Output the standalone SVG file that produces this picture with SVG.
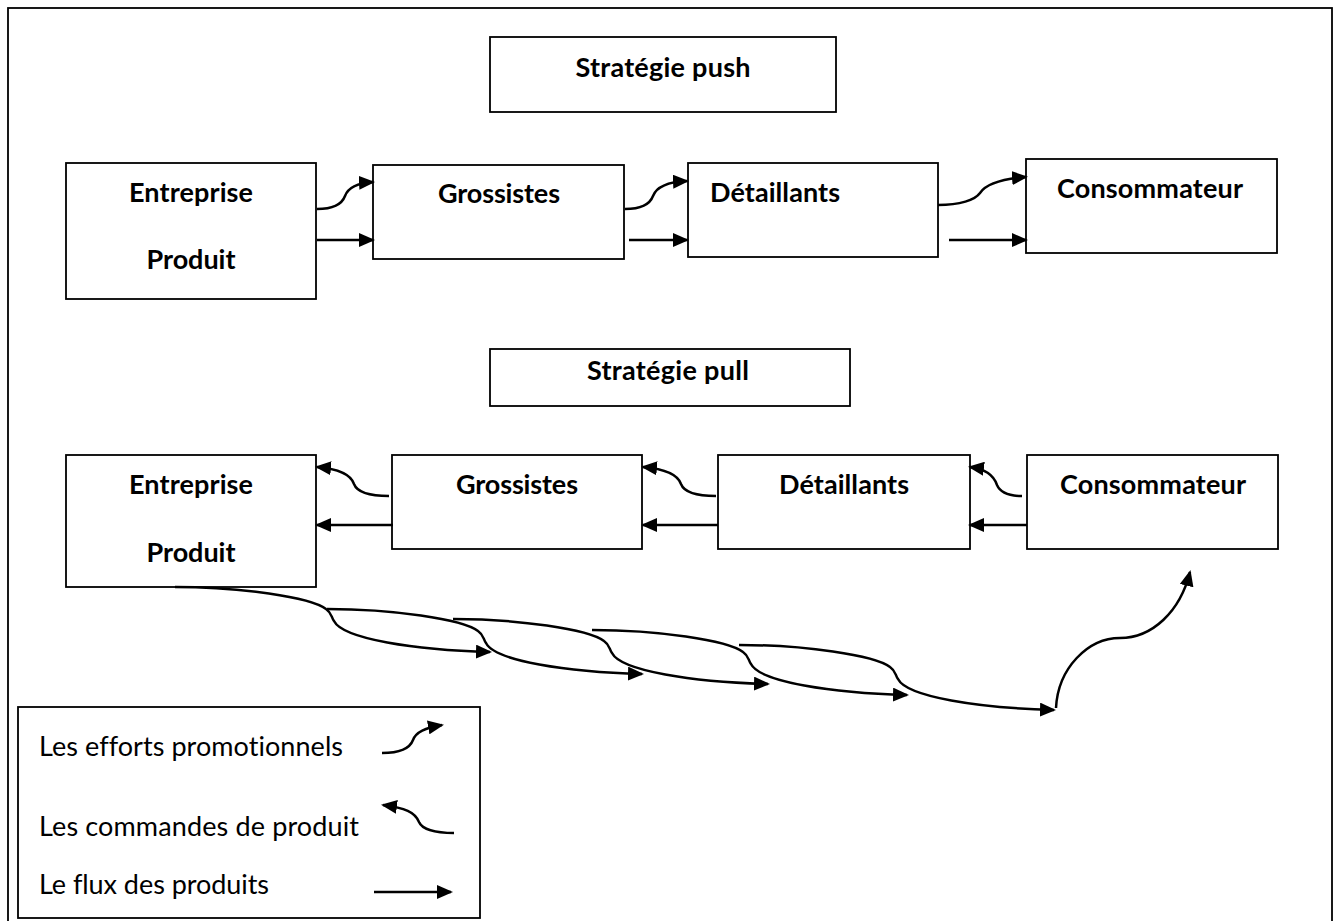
<svg xmlns="http://www.w3.org/2000/svg" width="1339" height="921" viewBox="0 0 1339 921">
<style>
.box{fill:#fff;stroke:#000;stroke-width:1.8}
.frame{fill:none;stroke:#000;stroke-width:1.8}
.t{font-family:Lato,"Open Sans","Liberation Sans",sans-serif;font-size:27px;font-weight:bold;fill:#000;font-variant-ligatures:none}
.r{font-family:Lato,"Open Sans","Liberation Sans",sans-serif;font-size:27px;fill:#000;font-variant-ligatures:none}
.c{text-anchor:middle}
.ln{fill:none;stroke:#000;stroke-width:2.5;marker-end:url(#ah)}
</style>
<defs>
<marker id="ah" markerUnits="userSpaceOnUse" markerWidth="16" markerHeight="14" refX="14" refY="7" orient="auto"><path d="M0,0 L16,7 L0,14 z" fill="#000"/></marker>
<path id="seg" d="M0,0 C65,0 135,10 151,22 C157,26 156,30 159,34 C168,52 240,63 315,65"/>
</defs>
<rect width="1339" height="921" fill="#fff"/>
<rect class="frame" x="8" y="8" width="1324" height="930"/>

<g id="title-push"><rect class="box" x="490" y="37" width="346" height="75"/><text class="t c" x="663" y="77" textLength="175" lengthAdjust="spacing">Stratégie push</text></g>
<g id="push-entreprise"><rect class="box" x="66" y="163" width="250" height="136"/><text class="t c" x="191" y="202" textLength="124" lengthAdjust="spacing">Entreprise</text><text class="t c" x="191" y="269" textLength="89" lengthAdjust="spacing">Produit</text></g>
<g id="push-grossistes"><rect class="box" x="373" y="165" width="251" height="94"/><text class="t c" x="499" y="203" textLength="122" lengthAdjust="spacing">Grossistes</text></g>
<g id="push-detaillants"><rect class="box" x="688" y="163" width="250" height="94"/><text class="t" x="710" y="202" textLength="130" lengthAdjust="spacing">Détaillants</text></g>
<g id="push-consommateur"><rect class="box" x="1026" y="159" width="251" height="94"/><text class="t c" x="1150" y="198" textLength="186" lengthAdjust="spacing">Consommateur</text></g>

<g id="title-pull"><rect class="box" x="490" y="349" width="360" height="57"/><text class="t c" x="668" y="380" textLength="162" lengthAdjust="spacing">Stratégie pull</text></g>
<g id="pull-entreprise"><rect class="box" x="66" y="455" width="250" height="132"/><text class="t c" x="191" y="494" textLength="124" lengthAdjust="spacing">Entreprise</text><text class="t c" x="191" y="562" textLength="89" lengthAdjust="spacing">Produit</text></g>
<g id="pull-grossistes"><rect class="box" x="392" y="455" width="250" height="94"/><text class="t c" x="517" y="494" textLength="122" lengthAdjust="spacing">Grossistes</text></g>
<g id="pull-detaillants"><rect class="box" x="718" y="455" width="252" height="94"/><text class="t c" x="844" y="494" textLength="130" lengthAdjust="spacing">Détaillants</text></g>
<g id="pull-consommateur"><rect class="box" x="1027" y="455" width="251" height="94"/><text class="t c" x="1153" y="494" textLength="186" lengthAdjust="spacing">Consommateur</text></g>

<g id="connectors">
<path class="ln" d="M317,209 C333,209 342,204 345,196 C348,188 356,183 373,182"/>
<path class="ln" d="M317,240 H373"/>
<path class="ln" d="M625,209 C642,209 650,204 653,196 C656,188 665,182 687,181"/>
<path class="ln" d="M629,240 H687"/>
<path class="ln" d="M938,205 C960,205 975,200 980,193 C986,184 1000,179 1026,177"/>
<path class="ln" d="M949,240 H1026"/>

<path class="ln" d="M389,496 C370,496 357,492 354,484 C351,475 340,469 317,467"/>
<path class="ln" d="M393,525 H317"/>
<path class="ln" d="M716,496 C697,496 684,492 681,484 C678,475 665,469 643,467"/>
<path class="ln" d="M718,525 H643"/>
<path class="ln" d="M1022,496 C1008,496 1000,492 997,485 C994,476 986,469 970,467"/>
<path class="ln" d="M1027,525 H970"/>

<use href="#seg" class="ln" transform="translate(175,587)"/>
<use href="#seg" class="ln" transform="translate(327,609)"/>
<use href="#seg" class="ln" transform="translate(453,619)"/>
<use href="#seg" class="ln" transform="translate(592,630)"/>
<use href="#seg" class="ln" transform="translate(739,645)"/>
<path class="ln" d="M1056,708 C1058,668 1088,638 1120,638 C1152,638 1180,612 1190,572"/>
</g>

<g id="legend">
<rect class="box" x="18" y="707" width="462" height="211"/>
<text class="r" x="39" y="756" textLength="304" lengthAdjust="spacing">Les efforts promotionnels</text>
<text class="r" x="39" y="836" textLength="320" lengthAdjust="spacing">Les commandes de produit</text>
<text class="r" x="39" y="894" textLength="230" lengthAdjust="spacing">Le flux des produits</text>
<path class="ln" d="M382,753 C400,753 410,748 413,740 C416,732 425,728 442,725"/>
<path class="ln" d="M454,833 C435,833 422,829 419,822 C415,812 405,808 383,805"/>
<path class="ln" d="M374,892 H451"/>
</g>
</svg>
